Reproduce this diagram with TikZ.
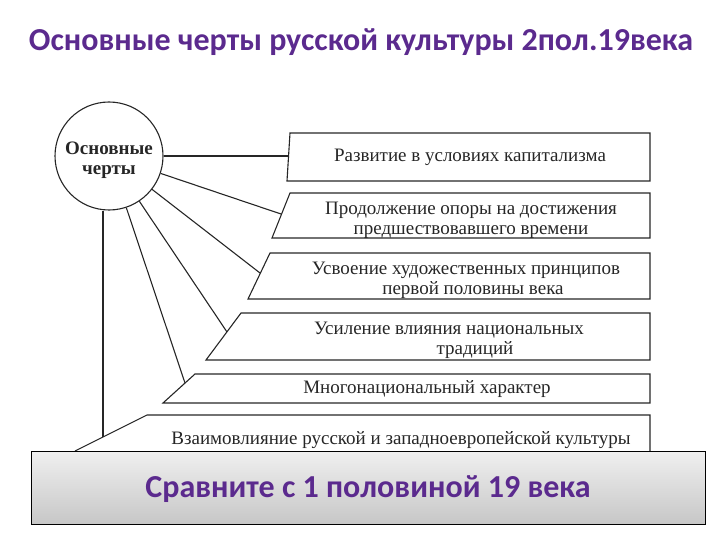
\documentclass[tikz,border=0pt]{standalone}
\usepackage{fontspec}
\setmainfont{Liberation Serif}
\newfontfamily\titlefont{Carlito}
\definecolor{ttl}{HTML}{5B2A8E}
\begin{document}
\begin{tikzpicture}[x=1pt,y=-1pt,
  boxline/.style={draw=black!85, line width=1.1pt, line join=miter},
  conn/.style={draw=black!85, line width=1.1pt},
  btext/.style={font=\fontsize{19}{20}\selectfont, align=center, text=black!85, inner sep=0pt},
  ttext/.style={font=\titlefont\bfseries\fontsize{32}{36}\selectfont, text=ttl, inner sep=0pt}]
\useasboundingbox (0,0) rectangle (720,540);
% title
\node[ttext] (title) at (361,42) {Основные черты русской культуры 2пол.19века};
% circle
\node[circle, draw=black!85, line width=1.1pt, minimum size=108pt, inner sep=0pt] (c) at (109,156) {};
\node[btext, font=\bfseries\fontsize{19}{20}\selectfont] (ct) at (109,160) {Основные\\черты};
% box corners
\coordinate (b1tl) at (290,133); \coordinate (b1bl) at (287,181);
\coordinate (b1tr) at (650,133); \coordinate (b1br) at (650,181);
\coordinate (b2tl) at (290,193); \coordinate (b2bl) at (272,238);
\coordinate (b2tr) at (650,193); \coordinate (b2br) at (650,238);
\coordinate (b3tl) at (270,253); \coordinate (b3bl) at (248,299);
\coordinate (b3tr) at (650,253); \coordinate (b3br) at (650,299);
\coordinate (b4tl) at (241,313); \coordinate (b4bl) at (206,360);
\coordinate (b4tr) at (650,313); \coordinate (b4br) at (650,360);
\coordinate (b5tl) at (195,374); \coordinate (b5bl) at (163,403);
\coordinate (b5tr) at (650,374); \coordinate (b5br) at (650,403);
\coordinate (b6tl) at (147,415); \coordinate (b6bl) at (75,451);
\coordinate (b6tr) at (650,415); \coordinate (b6br) at (650,458);
% boxes
\draw[boxline] (b1tl) -- (b1tr) -- (b1br) -- (b1bl) -- cycle;
\draw[boxline] (b2tl) -- (b2tr) -- (b2br) -- (b2bl) -- cycle;
\draw[boxline] (b3tl) -- (b3tr) -- (b3br) -- (b3bl) -- cycle;
\draw[boxline] (b4tl) -- (b4tr) -- (b4br) -- (b4bl) -- cycle;
\draw[boxline] (b5tl) -- (b5tr) -- (b5br) -- (b5bl) -- cycle;
\draw[boxline] (b6bl) -- (b6tl) -- (b6tr) -- (b6br);
% connector ends
\coordinate (e1) at (288.5,156);
\coordinate (e2) at (281,214);
\coordinate (e3) at (260,273);
\coordinate (e4) at (227,332);
\coordinate (e5) at (185,383);
\coordinate (e6) at (103,437);
\draw[conn] (c) -- (e1);
\draw[conn] (c) -- (e2);
\draw[conn] (c) -- (e3);
\draw[conn] (c) -- (e4);
\draw[conn] (c) -- (e5);
\draw[conn] (e6 |- c.south) -- (e6);
% texts
\node[btext] (t1) at (470,157) {Развитие в условиях капитализма};
\node[btext] (t2) at (471,220) {Продолжение опоры на достижения\\предшествовавшего времени};
\node[btext] (t3) at (466,280) {Усвоение художественных принципов\\\hspace*{14pt}первой половины века};
\node[btext] (t4) at (449,340) {Усиление влияния национальных\\\hspace*{52pt}традиций};
\node[btext] (t5) at (427,389) {Многонациональный характер};
\node[btext] (t6) at (401,440) {Взаимовлияние русской и западноевропейской культуры};
% bottom gray box
\path[top color=black!6, bottom color=black!22, draw=black, line width=1pt] (31,451) rectangle (705,524);
\node[ttext] (bt) at (368,489) {Сравните с 1 половиной 19 века};
\end{tikzpicture}
\end{document}
